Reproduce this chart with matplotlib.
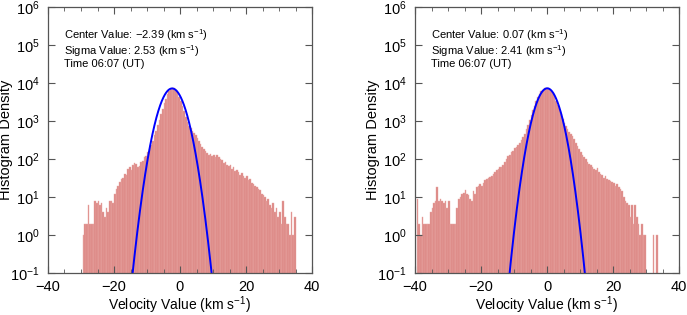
import numpy as np
import matplotlib
matplotlib.use("Agg")
import matplotlib.pyplot as plt
from matplotlib.ticker import MultipleLocator, LogLocator, NullLocator

plt.rcParams['font.family'] = ['Liberation Sans', 'DejaVu Sans']
plt.rcParams['mathtext.fontset'] = 'custom'
plt.rcParams['mathtext.rm'] = 'Liberation Sans'
plt.rcParams['mathtext.it'] = 'Liberation Sans:italic'

bin_width = 0.5

# Left panel
left_start = -29.25
left_counts = [
    1, 2, 2, 6, 2, 2, 2, 8, 7, 8,
    6, 7, 4, 3, 5, 4, 8, 8, 7, 12,
    16, 20, 25, 30, 32, 40, 38, 55, 60, 52,
    70, 78, 75, 60, 65, 85, 90, 110, 120, 150,
    180, 230, 300, 420, 560, 780, 1050, 1500, 2100, 2900,
    3900, 5000, 6100, 7000, 7500, 7200, 6500, 5500, 4400, 3400,
    2500, 1800, 1300, 950, 750, 650, 560, 480, 420, 360,
    300, 250, 210, 180, 160, 140, 130, 135, 120, 125,
    110, 130, 115, 100, 95, 80, 85, 70, 65, 70,
    55, 60, 48, 50, 45, 38, 42, 35, 32, 35,
    28, 30, 24, 22, 20, 18, 16, 15, 12, 11,
    10, 8, 9, 6, 5, 7, 4, 5, 3, 4,
    2, 8, 3, 2, 2, 1, 4, 1, 3,
]
left_center = -2.39
left_sigma = 2.53
left_amp = 7200

# Right panel
right_start = -39.25
right_counts = [
    9, 2, 1, 3, 2, 2, 2, 2, 4, 5,
    7, 8, 18, 8, 9, 8, 7, 8, 5, 8,
    2, 2, 2, 2, 5, 9, 10, 12, 13, 15,
    12, 11, 9, 8, 14, 12, 18, 20, 22, 20,
    24, 28, 30, 32, 34, 36, 40, 45, 50, 55,
    60, 62, 70, 85, 100, 120, 130, 150, 165, 190,
    210, 240, 270, 310, 380, 460, 600, 780, 1050, 1400,
    1900, 2500, 3300, 4200, 5100, 6000, 6700, 7200, 7600, 7500,
    7000, 6200, 5300, 4300, 3400, 2600, 2000, 1500, 1150, 900,
    720, 600, 520, 460, 400, 330, 270, 220, 180, 150,
    130, 115, 100, 85, 75, 68, 60, 55, 50, 58,
    45, 40, 38, 32, 35, 30, 28, 26, 25, 24,
    20, 22, 18, 16, 14, 10, 8, 7, 6, 3,
    6, 2, 6, 3, 2, 1, 2, 1, 1, 0,
    0, 0, 0, 1, 0, 1,
]
right_center = 0.07
right_sigma = 2.41
right_amp = 7250

time_label = "06:07"

W, H = 687, 315
fig = plt.figure(figsize=(W / 100, H / 100), dpi=100)

axes_px = [(48, 312), (415, 679)]
top_px, bot_px = 7, 273

panels = [
    (left_start, left_counts, left_center, left_sigma, left_amp),
    (right_start, right_counts, right_center, right_sigma, right_amp),
]

spine_col = '#555555'
for (x0, x1), (start, counts, c, s, amp) in zip(axes_px, panels):
    ax = fig.add_axes([x0 / W, 1 - bot_px / H, (x1 - x0) / W, (bot_px - top_px) / H])
    ax.set_yscale('log')
    centers = start + bin_width * np.arange(len(counts))
    ax.bar(centers, counts, width=bin_width, color='#dc8683', edgecolor='#e9a9a6',
           linewidth=0.3)
    xx = np.linspace(-40, 40, 2000)
    yy = amp * np.exp(-(xx - c) ** 2 / (2 * s ** 2))
    ax.plot(xx, yy, color='blue', lw=1.4)
    ax.set_xlim(-40, 40)
    ax.set_ylim(0.1, 1e6)
    ax.xaxis.set_major_locator(MultipleLocator(20))
    ax.xaxis.set_minor_locator(MultipleLocator(5))
    ax.yaxis.set_major_locator(LogLocator(base=10, numticks=10))
    ax.yaxis.set_minor_locator(NullLocator())
    ax.tick_params(which='both', direction='in', top=True, right=True,
                   colors=spine_col, labelcolor='black', labelsize=10.5)
    ax.tick_params(axis='x', which='major', pad=5)
    ax.tick_params(axis='y', which='major', pad=6)
    ax.tick_params(which='major', length=5, width=0.8)
    ax.tick_params(which='minor', length=3, width=0.6)
    for sp in ax.spines.values():
        sp.set_color(spine_col)
        sp.set_linewidth(0.9)
    ax.set_xlabel(r'Velocity Value (km s$^{-1}$)', fontsize=10)
    ax.set_ylabel('Histogram Density', fontsize=10.5)
    ax.xaxis.set_label_coords(0.5, -0.08)
    ax.yaxis.set_label_coords(-0.134, 0.5)
    cstr = f"{c:.2f}".replace('-', '\u2212')
    tx = 0.062
    ax.text(tx, 0.896, f"Center Value: {cstr} (km s$^{{-1}}$)", transform=ax.transAxes,
            fontsize=8, va='center', ha='left')
    ax.text(tx, 0.836, f"Sigma Value: {s:.2f} (km s$^{{-1}}$)", transform=ax.transAxes,
            fontsize=8, va='center', ha='left')
    ax.text(tx, 0.784, f"Time {time_label} (UT)", transform=ax.transAxes,
            fontsize=8, va='center', ha='left')

fig.savefig('out.png', dpi=100)
